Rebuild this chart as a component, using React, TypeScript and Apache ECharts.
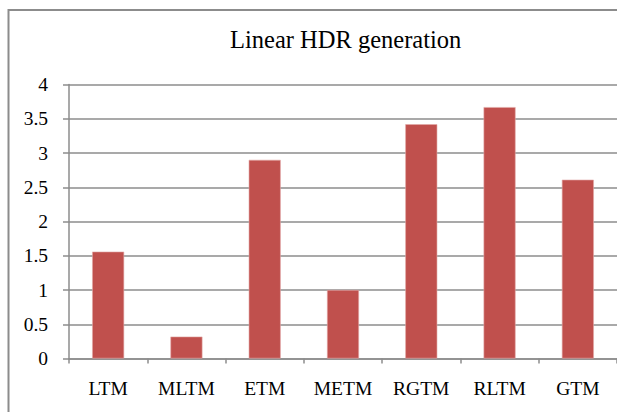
import React, { useEffect, useRef } from "react";
import * as echarts from "echarts";

const categories = ["LTM", "MLTM", "ETM", "METM", "RGTM", "RLTM", "GTM"];
const values = [1.56, 0.32, 2.9, 1.0, 3.42, 3.67, 2.61];
const titleText = "Linear HDR generation";

export default function App() {
  const ref = useRef<HTMLDivElement>(null);
  useEffect(() => {
    if (!ref.current) return;
    const chart = echarts.init(ref.current, null, { renderer: "svg" });
    const font = "Liberation Serif";
    const gray = "#8c8c8c";
    chart.setOption({
      animation: false,
      backgroundColor: "#ffffff",
      textStyle: { fontFamily: font },
      title: {
        text: titleText,
        left: 230,
        top: 27,
        padding: 0,
        textStyle: { fontFamily: font, fontSize: 24.5, fontWeight: "normal", color: "#000" },
      },
      graphic: [
        {
          type: "polyline",
          shape: { points: [[8.5, 600], [8.5, 10], [800, 10]] },
          style: { fill: "none", stroke: gray, lineWidth: 2 },
          silent: true,
        },
      ],
      grid: { left: 69, top: 84.5, width: 553, height: 274, containLabel: false },
      xAxis: {
        type: "category",
        data: categories,
        boundaryGap: true,
        axisLine: { show: true, lineStyle: { color: gray, width: 1.5 } },
        axisTick: { show: true, length: 5, lineStyle: { color: gray, width: 1.5 } },
        axisLabel: { fontFamily: font, fontSize: 19.5, color: "#000", margin: 20 },
        splitLine: { show: false },
      },
      yAxis: {
        type: "value",
        min: 0,
        max: 4,
        interval: 0.5,
        axisLine: { show: true, lineStyle: { color: gray, width: 1.5 } },
        axisTick: { show: true, length: 6, lineStyle: { color: gray, width: 1.5 } },
        axisLabel: { fontFamily: font, fontSize: 19.5, color: "#000", margin: 21 },
        splitLine: { show: true, lineStyle: { color: gray, width: 1.5 } },
      },
      series: [
        {
          type: "bar",
          data: values,
          barWidth: 32,
          itemStyle: { color: "#C0504D", borderColor: "#e3a9a7", borderWidth: 0.6 },
        },
      ],
    });
    return () => chart.dispose();
  }, []);
  return (
    <div
      ref={ref}
      style={{ position: "absolute", left: 0, top: 0, width: 617, height: 412, overflow: "hidden" }}
    />
  );
}
